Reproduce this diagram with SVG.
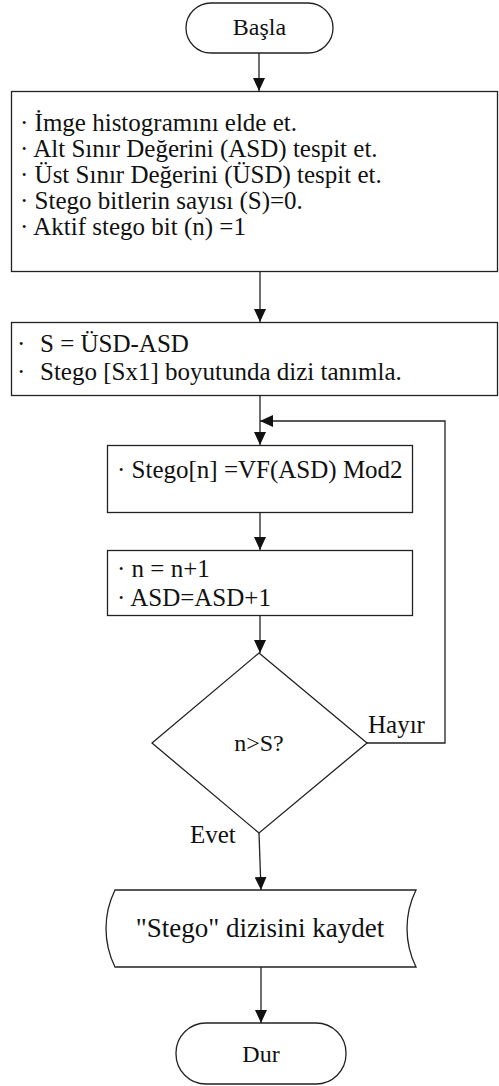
<svg xmlns="http://www.w3.org/2000/svg" width="499" height="1086" viewBox="0 0 499 1086">
  <style>
    .shape { fill: #ffffff; stroke: #222222; stroke-width: 1.3; }
    .edge { fill: none; stroke: #222222; stroke-width: 1.3; }
    .t { font-family: "Liberation Serif", "Times New Roman", serif; font-size: 25px; fill: #111111; }
    .term { font-size: 24px; }
    .c { text-anchor: middle; }
  </style>
  <defs>
    <marker id="arrow" markerUnits="userSpaceOnUse" markerWidth="13" markerHeight="12" refX="13" refY="6" orient="auto">
      <path d="M0,0 L13,6 L0,12 Z" fill="#111111"/>
    </marker>
  </defs>

  <!-- connectors -->
  <g id="connectors">
    <line class="edge" x1="259" y1="53" x2="259" y2="91" marker-end="url(#arrow)"/>
    <line class="edge" x1="260" y1="272" x2="260" y2="322" marker-end="url(#arrow)"/>
    <line class="edge" x1="260" y1="396" x2="260" y2="445" marker-end="url(#arrow)"/>
    <line class="edge" x1="260" y1="513" x2="260" y2="550" marker-end="url(#arrow)"/>
    <line class="edge" x1="260" y1="616" x2="260" y2="653" marker-end="url(#arrow)"/>
    <line class="edge" x1="259" y1="833" x2="261" y2="890" marker-end="url(#arrow)"/>
    <line class="edge" x1="261" y1="967" x2="261" y2="1023" marker-end="url(#arrow)"/>
    <polyline class="edge" points="367,743 445,743 445,421 260,421" marker-end="url(#arrow)"/>
    <text class="t" x="368" y="733">Hayır</text>
    <text class="t" x="190" y="843">Evet</text>
  </g>

  <!-- start -->
  <g id="start">
    <rect class="shape" x="186" y="3" width="147" height="50" rx="25" ry="25"/>
    <text class="t term c" x="259.5" y="35">Başla</text>
  </g>

  <!-- initialisation -->
  <g id="init">
    <rect class="shape" x="11.5" y="91.5" width="486" height="180"/>
    <text class="t" x="20" y="130.5">· İmge histogramını elde et.</text>
    <text class="t" x="20" y="156.5">· Alt Sınır Değerini (ASD) tespit et.</text>
    <text class="t" x="20" y="182.5">· Üst Sınır Değerini (ÜSD) tespit et.</text>
    <text class="t" x="20" y="208.5">· Stego bitlerin sayısı (S)=0.</text>
    <text class="t" x="20" y="234.5">· Aktif stego bit (n) =1</text>
  </g>

  <!-- array definition -->
  <g id="define">
    <rect class="shape" x="11.5" y="322.5" width="486" height="73"/>
    <text class="t" x="17" y="352">·<tspan x="40">S = ÜSD-ASD</tspan></text>
    <text class="t" x="17" y="380">·<tspan x="40">Stego [Sx1] boyutunda dizi tanımla.</tspan></text>
  </g>

  <!-- bit extraction -->
  <g id="extract">
    <rect class="shape" x="107.5" y="445.5" width="305" height="67"/>
    <text class="t" x="117" y="478">· Stego[n] =VF(ASD) Mod2</text>
  </g>

  <!-- increment -->
  <g id="increment">
    <rect class="shape" x="107.5" y="550.5" width="305" height="65"/>
    <text class="t" x="117" y="577">· n = n+1</text>
    <text class="t" x="117" y="606">· ASD=ASD+1</text>
  </g>

  <!-- decision -->
  <g id="decision">
    <polygon class="shape" points="259,653 367,743 259,833 152,743"/>
    <text class="t term c" x="259" y="751">n&gt;S?</text>
  </g>

  <!-- save -->
  <g id="save">
    <path class="shape" d="M115,890 L416,890 A87,87 0 0 0 416,967 L115,967 A87,87 0 0 1 115,890 Z"/>
    <text class="t c" x="260" y="937" style="font-size:27px">"Stego" dizisini kaydet</text>
  </g>

  <!-- end -->
  <g id="end">
    <rect class="shape" x="176" y="1023" width="170" height="61" rx="30" ry="30"/>
    <text class="t term c" x="261" y="1062">Dur</text>
  </g>
</svg>
